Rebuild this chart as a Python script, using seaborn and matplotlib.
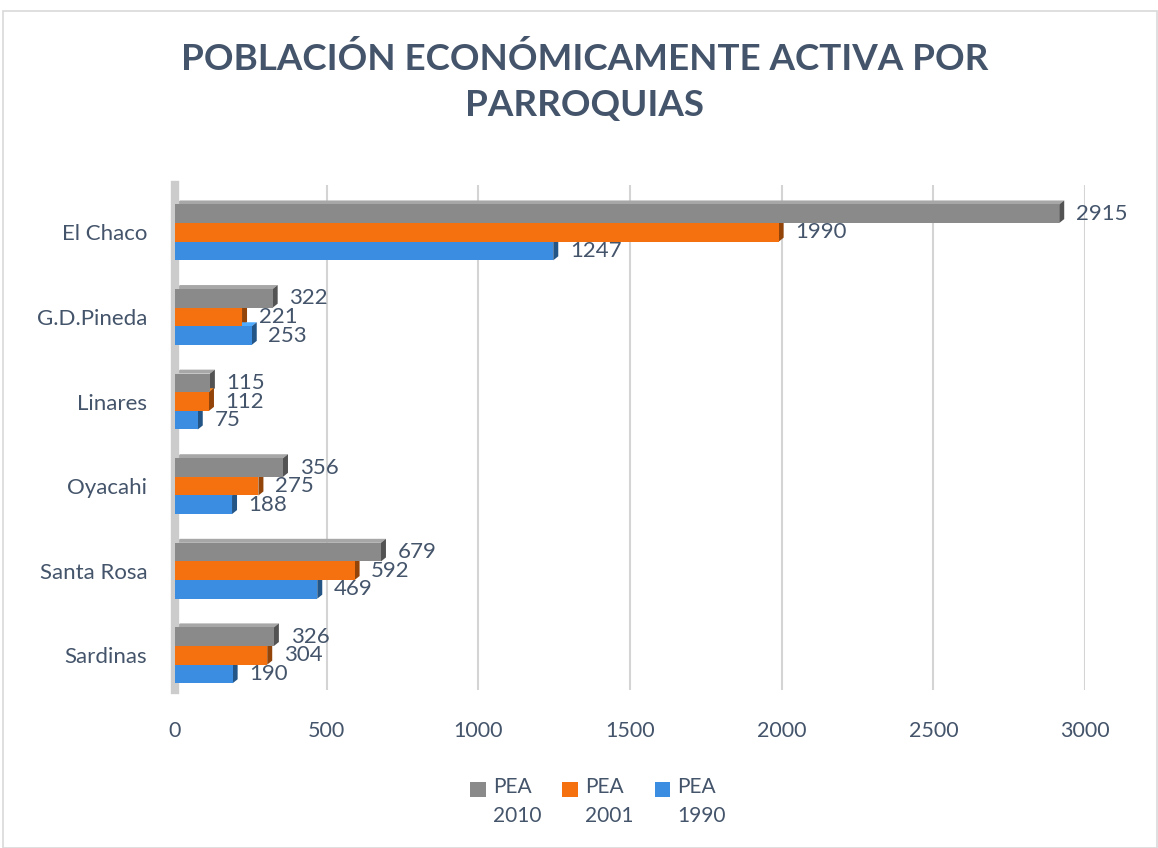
import matplotlib
matplotlib.use("Agg")
import matplotlib.pyplot as plt
import seaborn as sns
import pandas as pd
import numpy as np
from matplotlib.patches import Polygon, Rectangle
from matplotlib.transforms import IdentityTransform
from matplotlib.legend_handler import HandlerPatch
import matplotlib.colors as mcolors

# ---- data ----
parroquias = ["El Chaco", "G.D.Pineda", "Linares", "Oyacahi", "Santa Rosa", "Sardinas"]
pea_2010 = [2915, 322, 115, 356, 679, 326]
pea_2001 = [1990, 221, 112, 275, 592, 304]
pea_1990 = [1247, 253, 75, 188, 469, 190]
series_labels = ["PEA\n2010", "PEA\n2001", "PEA\n1990"]
x_ticks = [0, 500, 1000, 1500, 2000, 2500, 3000]
title = "POBLACIÓN ECONÓMICAMENTE ACTIVA POR\nPARROQUIAS"

colors = {"PEA\n2010": "#8a8a8a", "PEA\n2001": "#f5710f", "PEA\n1990": "#3a8de0"}
text_color = "#44546a"

rows = []
for lab, vals in zip(series_labels, [pea_2010, pea_2001, pea_1990]):
    for p, v in zip(parroquias, vals):
        rows.append({"parroquia": p, "serie": lab, "valor": v})
df = pd.DataFrame(rows)

sns.set_theme(style="white")
plt.rcParams["font.family"] = ["Lato", "DejaVu Sans"]

W, H = 1158, 848
fig = plt.figure(figsize=(W / 100, H / 100), dpi=100)
ax = fig.add_axes([175 / W, 1 - 690 / H, 910 / W, 505 / H])

sns.barplot(data=df, y="parroquia", x="valor", hue="serie", order=parroquias,
            hue_order=series_labels, palette=colors, orient="h", width=0.66,
            saturation=1, linewidth=0, edgecolor="none", ax=ax, zorder=3)

ax.set_xlim(0, 3000)
ax.set_ylim(len(parroquias) - 1 + 0.41, -0.56)
ax.set_xticks(x_ticks)
ax.set_xticklabels([str(t) for t in x_ticks])
ax.set_xlabel("")
ax.set_ylabel("")
ax.tick_params(axis="x", length=0, pad=22, labelsize=15.5, labelcolor=text_color)
ax.tick_params(axis="y", length=0, pad=20, labelsize=16, labelcolor=text_color)
ax.grid(axis="x", color="#d4d4d4", linewidth=1.5, zorder=0)
ax.grid(axis="y", visible=False)
for s in ["top", "right", "bottom"]:
    ax.spines[s].set_visible(False)
ax.spines["left"].set_color("#cccccc")
ax.spines["left"].set_linewidth(6)
ax.set_axisbelow(True)

# 3D faces and labels
fig.canvas.draw()
dx, dy = 5, 4
bars = [p for p in ax.patches if isinstance(p, Rectangle) and p.get_width() > 0]
for container in ax.containers:
    ax.bar_label(container, fmt="%d", padding=12, fontsize=16, color=text_color)
for p in bars:
    x0, y0 = p.get_x(), p.get_y()
    x1, y1 = x0 + p.get_width(), y0 + p.get_height()
    fc = mcolors.to_rgb(p.get_facecolor())
    dark = tuple(c * 0.6 for c in fc)
    light = tuple(min(1, c * 1.12 + 0.05) for c in fc)
    (px0, ptop) = ax.transData.transform((x0, y0))
    (px1, pbot) = ax.transData.transform((x1, y1))
    top = Polygon([(px0, ptop), (px1, ptop), (px1 + dx, ptop + dy), (px0 + dx, ptop + dy)],
                  closed=True, transform=IdentityTransform(), facecolor=light,
                  edgecolor="none", zorder=2, clip_on=False)
    side = Polygon([(px1, ptop), (px1 + dx, ptop + dy), (px1 + dx, pbot + dy), (px1, pbot)],
                   closed=True, transform=IdentityTransform(), facecolor=dark,
                   edgecolor="none", zorder=2, clip_on=False)
    ax.add_artist(top)
    ax.add_artist(side)


def top_square(legend, orig_handle, xdescent, ydescent, width, height, fontsize):
    return Rectangle((-xdescent, -ydescent + 0.62 * fontsize), width, height)


leg = ax.legend(loc="upper center", bbox_to_anchor=(0.465, -0.135), ncol=3, frameon=False,
                fontsize=15, handlelength=0.75, handleheight=0.75, handletextpad=0.35,
                columnspacing=1.0, labelcolor=text_color,
                handler_map={Rectangle: HandlerPatch(patch_func=top_square)})
for t in leg.get_texts():
    t.set_linespacing(1.55)

fig.suptitle(title, x=0.505, y=0.95, fontsize=26.5, fontweight="bold", color=text_color,
             linespacing=1.45)

fig.add_artist(Rectangle((3 / W, 0), 1 - 4 / W, 1 - 11 / H, transform=fig.transFigure,
                         fill=False, edgecolor="#d9d9d9", linewidth=1.2))

fig.savefig("out.png", dpi=100)
